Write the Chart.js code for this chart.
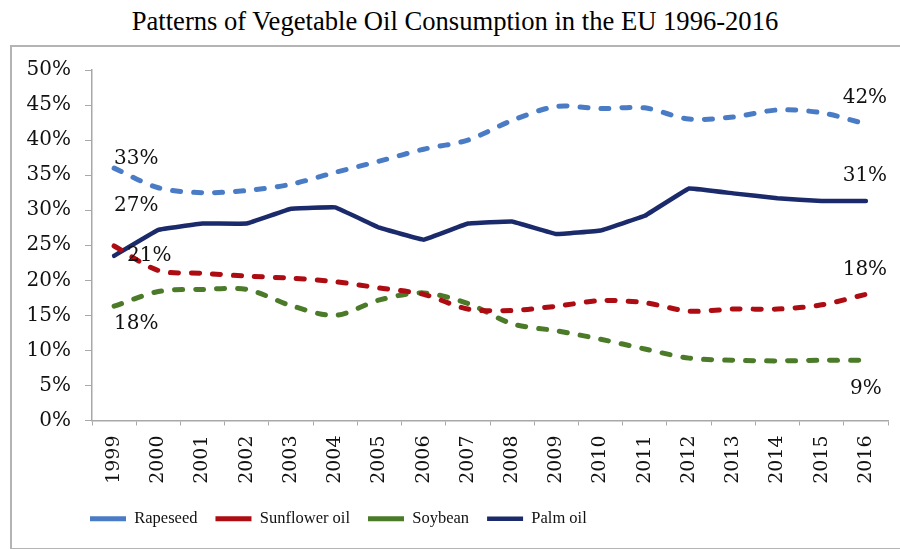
<!DOCTYPE html>
<html>
<head>
<meta charset="utf-8">
<script src="https://cdn.jsdelivr.net/npm/chart.js@4.4.1/dist/chart.umd.min.js"></script>
<style>
  body { margin: 0; background: #fff; }
  #wrap { position: relative; width: 900px; height: 549px; overflow: hidden; }
  #title { position: absolute; left: 10px; top: 8px; width: 890px; text-align: center;
           font: 26.6px/26px "Liberation Serif", "Times New Roman", serif; color: #000; }
  #frame { position: absolute; left: 10px; top: 45px; width: 920px; height: 501px;
           border: 2px solid #b4b4b4; }
  #chart { position: absolute; left: 0; top: 0; }
</style>
</head>
<body>
<div id="wrap">
  <div id="title">Patterns of Vegetable Oil Consumption in the EU 1996-2016</div>
  <div id="frame"></div>
  <canvas id="chart" width="900" height="549"></canvas>
</div>
<script>
// data (percent of EU vegetable oil consumption)
const years = ['1999', '2000', '2001', '2002', '2003', '2004', '2005', '2006', '2007',
               '2008', '2009', '2010', '2011', '2012', '2013', '2014', '2015', '2016'];
const rapeseed = [36.0, 33.2, 32.5, 32.8, 33.7, 35.4, 37.0, 38.7, 40.0, 42.8, 44.8, 44.5, 44.6, 43.0, 43.3, 44.3, 43.9, 42.3];
const sunflower = [24.9, 21.4, 21.0, 20.6, 20.3, 19.8, 18.9, 18.0, 15.9, 15.7, 16.3, 17.1, 16.8, 15.6, 15.9, 15.9, 16.5, 18.0];
const soybean = [16.3, 18.4, 18.7, 18.7, 16.4, 15.0, 17.2, 18.2, 16.7, 13.8, 12.8, 11.6, 10.2, 8.9, 8.6, 8.5, 8.6, 8.6];
const palmOil = [23.5, 27.2, 28.1, 28.1, 30.2, 30.4, 27.5, 25.8, 28.1, 28.4, 26.6, 27.1, 29.2, 33.1, 32.4, 31.7, 31.3, 31.3];
const yTicks = [0, 5, 10, 15, 20, 25, 30, 35, 40, 45, 50];

// labels written next to the first and last years (order: rapeseed, sunflower, soybean, palm)
const startLabels = ['33%', '21%', '18%', '27%'];
const endLabels = ['42%', '18%', '9%', '31%'];
const startOffsets = [[-22, -29], [-9, -15], [-22, 32], [-22, -24]];
const endOffsets = [[-1, -26], [-1, -25], [0, 29], [-1, -25]];

const serif = '"DejaVu Serif", serif';
Chart.defaults.font.family = serif;
Chart.defaults.color = '#111';

const valueLabels = {
  id: 'valueLabels',
  afterLayout(chart) {
    // legend starts under the y axis labels, not at the canvas edge
    chart.legend.left = 72;
  },
  afterDatasetsDraw(chart) {
    const ctx = chart.ctx;
    ctx.save();
    ctx.font = '20px ' + serif;
    ctx.fillStyle = '#111';
    ctx.textAlign = 'center';
    ctx.textBaseline = 'middle';
    chart.data.datasets.forEach((ds, i) => {
      const pts = chart.getDatasetMeta(i).data;
      const a = pts[1], b = pts[pts.length - 1];
      ctx.fillText(startLabels[i], a.x + startOffsets[i][0], a.y + startOffsets[i][1]);
      ctx.fillText(endLabels[i], b.x + endOffsets[i][0], b.y + endOffsets[i][1]);
    });
    ctx.restore();
  }
};

const ctx = document.getElementById('chart');
new Chart(ctx, {
  type: 'line',
  data: {
    labels: years,
    datasets: [{
      label: 'Rapeseed',
      data: rapeseed,
      borderColor: '#4a7cc6',
      borderWidth: 5,
      borderDash: [8, 13],
      borderCapStyle: 'round',
      tension: 0.3,
      pointRadius: 0
    }, {
      label: 'Sunflower oil',
      data: sunflower,
      borderColor: '#ad0c12',
      borderWidth: 5,
      borderDash: [8, 13],
      borderCapStyle: 'round',
      tension: 0.3,
      pointRadius: 0
    }, {
      label: 'Soybean',
      data: soybean,
      borderColor: '#4b7a28',
      borderWidth: 5,
      borderDash: [8, 13],
      borderCapStyle: 'round',
      tension: 0.3,
      pointRadius: 0
    }, {
      label: 'Palm oil',
      data: palmOil,
      borderColor: '#1b2a6b',
      borderWidth: 4.5,
      borderCapStyle: 'round',
      tension: 0.05,
      pointRadius: 0
    }]
  },
  options: {
    responsive: false,
    animation: false,
    layout: { padding: { left: 0, right: 12, top: 70, bottom: 12 } },
    plugins: {
      title: { display: false },
      tooltip: { enabled: false },
      legend: {
        position: 'bottom',
        align: 'start',
        labels: {
          usePointStyle: true,
          pointStyle: 'line',
          pointStyleWidth: 36,
          padding: 18,
          color: '#111',
          font: { family: '"Liberation Serif", serif', size: 16.5 }
        }
      }
    },
    scales: {
      x: {
        offset: true,
        border: { color: '#a8a8a8', width: 1.5 },
        grid: { offset: true, drawOnChartArea: false, tickLength: 5, color: '#a8a8a8' },
        ticks: { minRotation: 90, maxRotation: 90, padding: 10, font: { size: 19 } },
        afterFit: s => { s.height = 72; }
      },
      y: {
        min: 0,
        max: 50,
        border: { color: '#a8a8a8', width: 1.5 },
        grid: { drawOnChartArea: false, tickLength: 7, color: '#a8a8a8' },
        afterBuildTicks: s => { s.ticks = yTicks.map(v => ({ value: v })); },
        ticks: { padding: 14, font: { size: 20 }, callback: v => v + '%' },
        afterFit: s => { s.width = 92; }
      }
    }
  },
  plugins: [valueLabels]
});
</script>
</body>
</html>
